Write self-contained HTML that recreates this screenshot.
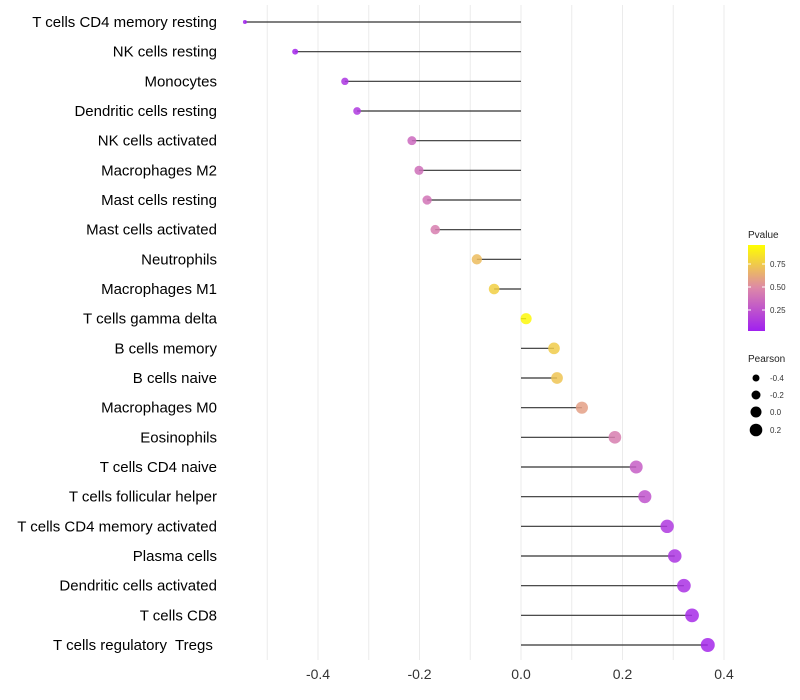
<!DOCTYPE html>
<html><head><meta charset="utf-8"><style>
body{margin:0;background:#fff;}
svg{display:block;font-family:"Liberation Sans",sans-serif;}
text{white-space:pre;}
</style></head><body>
<svg id="chart" width="800" height="700">
<defs><linearGradient id="pg" x1="0" y1="1" x2="0" y2="0">
<stop offset="0" stop-color="#a020f0"/><stop offset="0.5" stop-color="#dd88a8"/><stop offset="1" stop-color="#ffff00"/>
</linearGradient></defs>
<g id="grid"></g>
<g id="marks"></g>
<g id="ylabels"></g>
<g id="xlabels"></g>
<g>
<text x="748" y="238" font-size="10" fill="#222">Pvalue</text>
<rect x="748" y="245" width="17" height="86" fill="url(#pg)"/>
<line x1="748" y1="264" x2="751" y2="264" stroke="#fff"/><line x1="762" y1="264" x2="765" y2="264" stroke="#fff"/>
<line x1="748" y1="287" x2="751" y2="287" stroke="#fff"/><line x1="762" y1="287" x2="765" y2="287" stroke="#fff"/>
<line x1="748" y1="310" x2="751" y2="310" stroke="#fff"/><line x1="762" y1="310" x2="765" y2="310" stroke="#fff"/>
<text x="770" y="267" font-size="8" fill="#333">0.75</text>
<text x="770" y="290" font-size="8" fill="#333">0.50</text>
<text x="770" y="313" font-size="8" fill="#333">0.25</text>
</g>
<g>
<text x="748" y="362" font-size="10" fill="#222">Pearson</text>
<circle cx="756" cy="378" r="3.5" fill="#000"/><text x="770" y="381" font-size="8" fill="#333">-0.4</text>
<circle cx="756" cy="395" r="4.5" fill="#000"/><text x="770" y="398" font-size="8" fill="#333">-0.2</text>
<circle cx="756" cy="412" r="5.5" fill="#000"/><text x="770" y="415" font-size="8" fill="#333">0.0</text>
<circle cx="756" cy="430" r="6.3" fill="#000"/><text x="770" y="433" font-size="8" fill="#333">0.2</text>
</g>
</svg>
<script>
const categories=["T cells CD4 memory resting","NK cells resting","Monocytes","Dendritic cells resting","NK cells activated","Macrophages M2","Mast cells resting","Mast cells activated","Neutrophils","Macrophages M1","T cells gamma delta","B cells memory","B cells naive","Macrophages M0","Eosinophils","T cells CD4 naive","T cells follicular helper","T cells CD4 memory activated","Plasma cells","Dendritic cells activated","T cells CD8","T cells regulatory  Tregs "];
const pearson=[-0.544,-0.445,-0.347,-0.323,-0.215,-0.201,-0.185,-0.169,-0.087,-0.053,0.010,0.065,0.071,0.120,0.185,0.227,0.244,0.288,0.303,0.321,0.337,0.368];
const pvalue=[0.01,0.03,0.1,0.12,0.35,0.38,0.4,0.45,0.72,0.8,0.97,0.78,0.75,0.6,0.45,0.3,0.25,0.12,0.1,0.08,0.06,0.04];
const xTicks=[-0.4,-0.2,0.0,0.2,0.4];
const xTickLabels=["-0.4","-0.2","0.0","0.2","0.4"];
const minorTicks=[-0.5,-0.3,-0.1,0.1,0.3];
const NS='http://www.w3.org/2000/svg';
const x=v=>521+v*507.5;
const y=i=>22+i*(623/21);
function mk(t,a,p){const e=document.createElementNS(NS,t);for(const k in a)e.setAttribute(k,a[k]);p.appendChild(e);return e;}
function lerp(a,b,t){return a.map((v,i)=>Math.round(v+(b[i]-v)*t));}
function col(p){const c0=[160,32,240],c1=[221,136,168],c2=[255,255,0];const c=p<0.5?lerp(c0,c1,p/0.5):lerp(c1,c2,(p-0.5)/0.5);return `rgb(${c.join(',')})`;}
const grid=document.getElementById('grid'),marks=document.getElementById('marks'),yl=document.getElementById('ylabels'),xl=document.getElementById('xlabels');
minorTicks.concat(xTicks).forEach(t=>{
  const l=mk('line',{x1:x(t),x2:x(t),y1:5,y2:660,stroke:'#ebebeb','stroke-width':1},grid);
  
  
});
xTicks.forEach((t,i)=>{
  const tx=mk('text',{x:x(t),y:679,'font-size':14,'text-anchor':'middle',fill:'#333'},xl);
  tx.textContent=xTickLabels[i];
  
  
});
categories.forEach((c,i)=>{
  const tx=mk('text',{x:217,y:y(i)+5,'font-size':15,'text-anchor':'end',fill:'#000'},yl);
  tx.textContent=c;
  
  
  const ln=mk('line',{x1:x(0),x2:x(pearson[i]),y1:y(i),y2:y(i),stroke:'#333','stroke-width':1.2},marks);
  
  
  const r=Math.sqrt(Math.max(4,30.8+49.3*pearson[i]));
  const d=mk('circle',{cx:x(pearson[i]),cy:y(i),r:r,fill:col(pvalue[i]),'fill-opacity':0.85},marks);
  
  
});
</script>
</body></html>
